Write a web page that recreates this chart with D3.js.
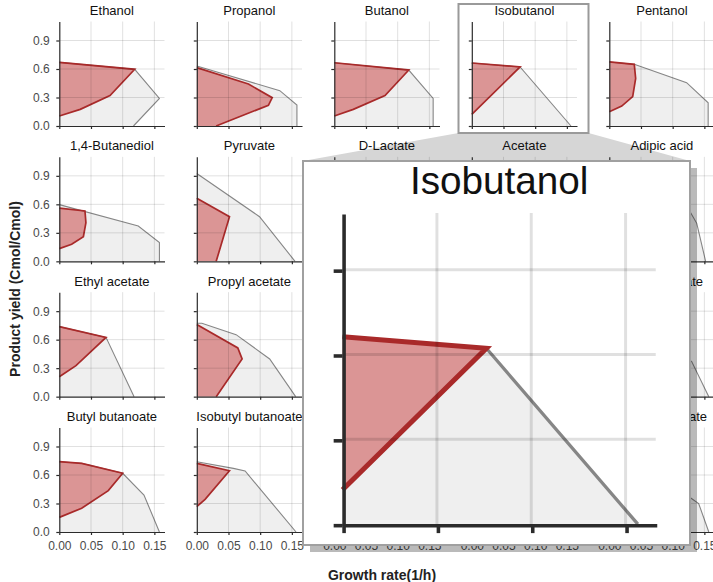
<!DOCTYPE html>
<html>
<head>
<meta charset="utf-8">
<script src="https://cdn.jsdelivr.net/npm/d3@7"></script>
<style>
  body { margin: 0; background: #fff; }
  svg { display: block; font-family: "Liberation Sans", Arial, Helvetica, sans-serif; }
</style>
</head>
<body>
<svg id="chart" width="713" height="582"></svg>
<script>
// Production envelopes: product yield (Cmol/Cmol) versus growth rate (1/h)
const products = [
  "Ethanol", "Propanol", "Butanol", "Isobutanol", "Pentanol",
  "1,4-Butanediol", "Pyruvate", "D-Lactate", "Acetate", "Adipic acid",
  "Ethyl acetate", "Propyl acetate", "Butyl acetate", "Isobutyl acetate", "Pentyl acetate",
  "Butyl butanoate", "Isobutyl butanoate", "Ethyl propanoate", "Propyl propanoate", "Ethyl butanoate"
];

// Outer boundary of the full envelope, [growth rate, yield], from the yield axis round to the zero line
const fullEnvelopes = [
  [[0,0.67],[0.119,0.597],[0.158,0.29],[0.117,0]],
  [[0,0.632],[0.131,0.372],[0.158,0.221],[0.158,0]],
  [[0,0.666],[0.1175,0.589],[0.156,0.29],[0.156,0]],
  [[0,0.663],[0.0762,0.622],[0.1565,0]],
  [[0,0.674],[0.0394,0.649],[0.122,0.456],[0.156,0.245],[0.156,0]],
  [[0,0.597],[0.1246,0.372],[0.158,0.197],[0.158,0]],
  [[0,0.925],[0.099,0.47],[0.155,0]],
  [[0,0.96],[0.1,0.48],[0.152,0]],
  [[0,0.65],[0.09,0.45],[0.155,0]],
  [[0,0.62],[0.06,0.6],[0.125,0.55],[0.138,0.4],[0.152,0]],
  [[0,0.737],[0.0737,0.624],[0.118,0]],
  [[0,0.772],[0.008,0.772],[0.062,0.653],[0.115,0.397],[0.156,0]],
  [[0,0.76],[0.07,0.64],[0.12,0.38],[0.156,0]],
  [[0,0.74],[0.06,0.64],[0.125,0.37],[0.156,0]],
  [[0,0.75],[0.07,0.66],[0.13,0.37],[0.157,0]],
  [[0,0.74],[0.0353,0.723],[0.1,0.618],[0.1336,0.389],[0.158,0]],
  [[0,0.74],[0.0578,0.67],[0.0762,0.642],[0.1566,0]],
  [[0,0.72],[0.08,0.6],[0.13,0.35],[0.156,0]],
  [[0,0.73],[0.08,0.61],[0.13,0.36],[0.156,0]],
  [[0,0.72],[0.05,0.68],[0.1,0.55],[0.128,0.36],[0.141,0.3],[0.157,0]]
];

// Boundary of the designed-strain envelope
const designEnvelopes = [
  [[0,0.67],[0.119,0.597],[0.08,0.32],[0.033,0.175],[0,0.105]],
  [[0,0.615],[0.0815,0.442],[0.119,0.298],[0.113,0.218],[0.0305,0]],
  [[0,0.666],[0.1175,0.589],[0.08,0.32],[0.03,0.175],[0,0.105]],
  [[0,0.663],[0.0762,0.622],[0,0.122]],
  [[0,0.674],[0.0394,0.649],[0.0416,0.5],[0.0369,0.31],[0.0196,0.21],[0,0.15]],
  [[0,0.561],[0.0405,0.53],[0.042,0.407],[0.038,0.26],[0.0195,0.179],[0,0.134]],
  [[0,0.663],[0.0516,0.47],[0.0306,0]],
  [[0,0.7],[0.05,0.48],[0.03,0]],
  [[0,0.5],[0.04,0.42],[0.025,0]],
  [[0,0.58],[0.035,0.55],[0.03,0.2],[0,0.1]],
  [[0,0.737],[0.0737,0.624],[0.0263,0.326],[0,0.21]],
  [[0,0.76],[0.0647,0.513],[0.0715,0.397],[0.0306,0]],
  [[0,0.74],[0.06,0.52],[0.066,0.39],[0.028,0]],
  [[0,0.72],[0.055,0.6],[0.02,0.3],[0,0.2]],
  [[0,0.7],[0.05,0.62],[0.03,0.3],[0,0.15]],
  [[0,0.74],[0.0353,0.723],[0.1,0.618],[0.0773,0.435],[0.0353,0.25],[0,0.154]],
  [[0,0.723],[0.0515,0.645],[0.0131,0.344],[0,0.267]],
  [[0,0.7],[0.06,0.58],[0.05,0.3],[0,0.15]],
  [[0,0.7],[0.06,0.59],[0.05,0.3],[0,0.15]],
  [[0,0.7],[0.045,0.66],[0.04,0.35],[0,0.2]]
];

const xTicks = [0, 0.05, 0.10, 0.15];
const yTicks = [0, 0.3, 0.6, 0.9];
const highlighted = "Isobutanol";

// ---- layout ----
const svg = d3.select("#chart");
const nCols = 5;
const xMax = 0.166, yMax = 1.1;
const plotW = 105.2, plotH = 104.5;
const colX = d3.range(nCols).map(c => 59.3 + c * 137.5);   // left edge (growth rate 0)
const rowY = d3.range(4).map(r => 126 + r * 135.33);       // bottom edge (yield 0)

const x = d3.scaleLinear().domain([0, xMax]).range([0, plotW]);
const y = d3.scaleLinear().domain([0, yMax]).range([plotH, 0]);
const outline = d3.line().x(d => x(d[0])).y(d => y(d[1]));
const filled = pts => outline(pts.concat([[0, 0]])) + "Z";

function drawPanel(parent, i) {
  const col = i % nCols, row = Math.floor(i / nCols);
  const g = parent.append("g")
    .attr("transform", `translate(${colX[col]},${rowY[row] - plotH})`);

  g.append("text")
    .attr("x", plotW / 2).attr("y", -6.5)
    .attr("text-anchor", "middle")
    .attr("font-size", 13).attr("fill", "#111")
    .text(products[i]);

  g.append("path").attr("d", filled(fullEnvelopes[i]))
    .attr("fill", "#efefef").attr("stroke", "none");
  g.append("path").attr("d", outline(fullEnvelopes[i]))
    .attr("fill", "none").attr("stroke", "#868686").attr("stroke-width", 1.1);

  g.append("path").attr("d", filled(designEnvelopes[i]))
    .attr("fill", "rgb(200,60,60)").attr("fill-opacity", 0.5).attr("stroke", "none");
  g.append("path").attr("d", outline(designEnvelopes[i]))
    .attr("fill", "none").attr("stroke", "#a92a2a").attr("stroke-width", 1.7);

  const grid = g.append("g").attr("stroke", "#000").attr("stroke-opacity", 0.12).attr("stroke-width", 1);
  grid.selectAll(".gx").data(xTicks.filter(t => t > 0)).join("line")
    .attr("x1", d => x(d)).attr("x2", d => x(d)).attr("y1", 0).attr("y2", plotH);
  grid.selectAll(".gy").data(yTicks.filter(t => t > 0)).join("line")
    .attr("x1", 0).attr("x2", plotW).attr("y1", d => y(d)).attr("y2", d => y(d));

  const xAxis = d3.axisBottom(x).tickValues(xTicks).tickSize(3).tickSizeOuter(0).tickPadding(6.5)
    .tickFormat(row === 3 ? d3.format(".2f") : () => "");
  const yAxis = d3.axisLeft(y).tickValues(yTicks).tickSize(3).tickSizeOuter(0).tickPadding(6.5)
    .tickFormat(col === 0 ? d3.format(".1f") : () => "");

  [g.append("g").attr("transform", `translate(0,${plotH})`).call(xAxis),
   g.append("g").call(yAxis)].forEach(a => {
    a.attr("font-family", null).attr("font-size", 12);
    a.selectAll("path,line").attr("stroke", "#2b2b2b").attr("stroke-width", 1.2);
    a.selectAll("text").attr("fill", "#4a4a4a");
  });
}

// ---- magnified view geometry ----
const hi = products.indexOf(highlighted);
const boxX = 458.5, boxY = 4, boxW = 130, boxH = 129;
const insetX = 303, insetY = 161, insetW = 387, insetH = 384;
const k = insetW / boxW;

// connector between the outlined panel and its magnified view
svg.append("path")
  .attr("d", `M${boxX},${boxY + boxH}L${boxX + boxW},${boxY + boxH}L${insetX + insetW},${insetY}L${insetX},${insetY}Z`)
  .attr("fill", "#d6d6d6");

const panels = svg.append("g");
products.forEach((p, i) => drawPanel(panels, i));

svg.append("rect")
  .attr("x", boxX).attr("y", boxY).attr("width", boxW).attr("height", boxH)
  .attr("fill", "none").attr("stroke", "#9a9a9a").attr("stroke-width", 2);

// drop shadow, card, magnified panel
svg.append("rect")
  .attr("x", insetX + 7).attr("y", insetY + 7).attr("width", insetW).attr("height", insetH)
  .attr("fill", "#000").attr("fill-opacity", 0.27);
svg.append("rect")
  .attr("x", insetX).attr("y", insetY).attr("width", insetW).attr("height", insetH)
  .attr("fill", "#fff");

svg.append("defs").append("clipPath").attr("id", "zoomClip")
  .append("rect").attr("x", boxX).attr("y", boxY).attr("width", boxW).attr("height", boxH);

const zoomed = svg.append("g")
  .attr("transform", `translate(${insetX},${insetY}) scale(${k}) translate(${-boxX},${-boxY})`)
  .append("g").attr("clip-path", "url(#zoomClip)");
drawPanel(zoomed, hi);

svg.append("rect")
  .attr("x", insetX).attr("y", insetY).attr("width", insetW).attr("height", insetH)
  .attr("fill", "none").attr("stroke", "#a0a0a0").attr("stroke-width", 2);

// axis titles
svg.append("text")
  .attr("transform", "translate(20,289) rotate(-90)")
  .attr("text-anchor", "middle").attr("font-size", 14).attr("font-weight", "bold").attr("fill", "#222")
  .text("Product yield (Cmol/Cmol)");
svg.append("text")
  .attr("x", 382).attr("y", 580)
  .attr("text-anchor", "middle").attr("font-size", 14).attr("font-weight", "bold").attr("fill", "#222")
  .text("Growth rate(1/h)");
</script>
</body>
</html>
